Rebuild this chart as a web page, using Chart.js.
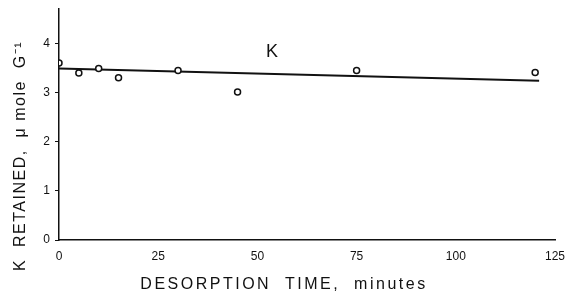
<!DOCTYPE html>
<html>
<head>
<meta charset="utf-8">
<script src="https://cdn.jsdelivr.net/npm/chart.js@4/dist/chart.umd.min.js"></script>
<style>
  html, body { margin: 0; padding: 0; background: #fff; }
  #wrap { width: 568px; height: 295px; }
</style>
</head>
<body>
<div id="wrap"><canvas id="chart" width="568" height="295"></canvas></div>
<script>
// 測定値 (脱着時間 vs K 保持量)
const desorptionTimes = [0, 5, 10, 15, 30, 45, 75, 120];
const kRetained = [3.60, 3.40, 3.49, 3.30, 3.45, 3.01, 3.45, 3.41];

// 回帰直線の両端
const fitTimes = [0, 121];
const fitValues = [3.49, 3.24];

const xTicks = [0, 25, 50, 75, 100, 125];
const yTicks = [0, 1, 2, 3, 4];

const xTitle = "DESORPTION  TIME,  minutes";
const yTitle = "K  RETAINED,  \u03bc mole  G\u207b\u00b9";
const seriesLabel = "K";
const labelAt = { x: 53.7, y: 3.83 };

const FONT = "'Liberation Sans', Arial, sans-serif";

// 軸タイトルと系列ラベル
const textPlugin = {
  id: "axisText",
  afterDraw(chart) {
    const ctx = chart.ctx;
    const xs = chart.scales.x, ys = chart.scales.y;
    ctx.save();
    ctx.fillStyle = "#111";
    ctx.textAlign = "center";
    ctx.textBaseline = "middle";
    ctx.letterSpacing = "2.5px";
    ctx.font = "16px " + FONT;
    ctx.fillText(xTitle, 284, 285);

    ctx.save();
    ctx.letterSpacing = "1.5px";
    ctx.translate(21, 156);
    ctx.rotate(-Math.PI / 2);
    ctx.fillText(yTitle, 0, 0);
    ctx.restore();

    ctx.letterSpacing = "0px";
    ctx.font = "18px " + FONT;
    ctx.fillText(seriesLabel, xs.getPixelForValue(labelAt.x), ys.getPixelForValue(labelAt.y));
    ctx.restore();
  }
};

const chart = new Chart(document.getElementById("chart"), {
  type: "scatter",
  data: {
    datasets: [
      {
        label: "K",
        data: desorptionTimes.map((t, i) => ({ x: t, y: kRetained[i] })),
        pointStyle: "circle",
        pointRadius: 3,
        pointBackgroundColor: "#fff",
        pointBorderColor: "#111",
        pointBorderWidth: 1.5,
        showLine: false
      },
      {
        type: "line",
        label: "fit",
        data: fitTimes.map((t, i) => ({ x: t, y: fitValues[i] })),
        borderColor: "#111",
        borderWidth: 2,
        pointRadius: 0,
        fill: false
      }
    ]
  },
  options: {
    responsive: false,
    animation: false,
    layout: { padding: { left: 0, right: 13, top: 9, bottom: 0 } },
    plugins: { legend: { display: false }, tooltip: { enabled: false } },
    scales: {
      x: {
        type: "linear",
        min: 0,
        max: 125,
        afterFit(s) { s.height = 55; s.paddingLeft = 0; s.paddingRight = 0; },
        afterBuildTicks(s) { s.ticks = xTicks.map(v => ({ value: v })); },
        grid: { display: true, drawOnChartArea: false, drawTicks: false, color: "#111" },
        border: { display: true, color: "#111", width: 1.5 },
        ticks: { color: "#111", padding: 9, font: { family: FONT, size: 12 } }
      },
      y: {
        type: "linear",
        min: 0,
        max: 4.7,
        afterFit(s) { s.width = 59; s.paddingTop = 0; s.paddingBottom = 0; },
        afterBuildTicks(s) { s.ticks = yTicks.map(v => ({ value: v })); },
        grid: { display: true, drawOnChartArea: false, drawTicks: true, tickLength: 4, color: "#111" },
        border: { display: true, color: "#111", width: 1.5 },
        ticks: { color: "#111", padding: 5, font: { family: FONT, size: 12 } }
      }
    }
  },
  plugins: [textPlugin]
});
</script>
</body>
</html>
